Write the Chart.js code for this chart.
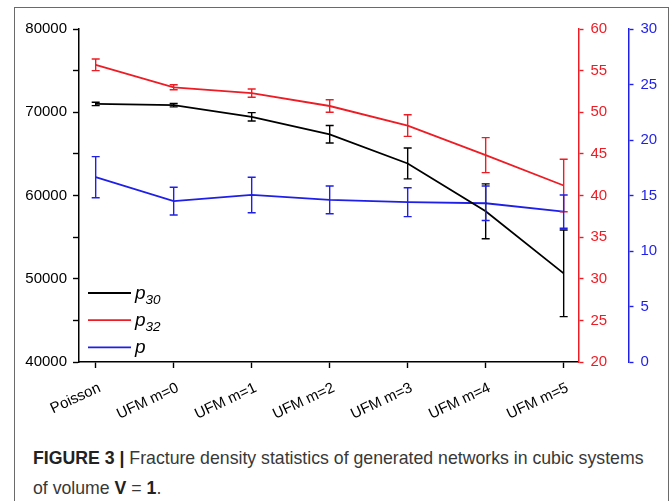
<!DOCTYPE html>
<html>
<head>
<meta charset="utf-8">
<script src="https://cdn.jsdelivr.net/npm/chart.js@4.4.1/dist/chart.umd.min.js"></script>
<style>
  body { margin: 0; background: #fff; width: 670px; height: 501px; overflow: hidden; position: relative; }
  #frame { position: absolute; left: 14px; top: 7px; width: 653px; height: 600px; border: 1px solid #6a6a6a; }
  #wrap { position: absolute; left: 0; top: 0; width: 670px; height: 430px; }
  #caption { position: absolute; left: 33px; top: 443px; font-family: 'Liberation Sans', Arial, sans-serif;
             font-size: 17.7px; line-height: 30px; color: #383838; white-space: nowrap; }
  #caption b { color: #222; }
</style>
</head>
<body>
<div id="frame"></div>
<div id="wrap"><canvas id="chart" width="670" height="430"></canvas></div>
<div id="caption">
  <b>FIGURE 3 |</b> Fracture density statistics of generated networks in cubic systems<br>
  of volume <b>V</b> = <b>1</b>.
</div>
<script>
// categories on the x axis
const categories = ['Poisson', 'UFM m=0', 'UFM m=1', 'UFM m=2', 'UFM m=3', 'UFM m=4', 'UFM m=5'];

// p30 (left axis)
const p30 = [71000, 70850, 69450, 67350, 63850, 58100, 50650];
const p30Err = [200, 200, 500, 1050, 1850, 3300, 5200];
// p32 (red right axis)
const p32 = [55.7, 53.0, 52.3, 50.75, 48.4, 44.85, 41.2];
const p32Err = [0.7, 0.3, 0.5, 0.75, 1.3, 2.1, 3.15];
// p (blue right axis)
const pVals = [16.65, 14.5, 15.05, 14.6, 14.4, 14.3, 13.55];
const pErr = [1.85, 1.25, 1.6, 1.25, 1.3, 1.55, 1.5];

// legend: symbol + subscript
const legendNames = [['p', '30'], ['p', '32'], ['p', '']];

const BLACK = '#000000';
const RED = '#ee1c24';
const BLUE = '#1f1fe8';
const FONT = "'Liberation Sans', Arial, sans-serif";

const toPts = arr => arr.map((v, i) => ({ x: i, y: v }));

const errorBars = {
  id: 'errorBars',
  afterDatasetsDraw(chart) {
    const ctx = chart.ctx;
    chart.data.datasets.forEach((ds, di) => {
      const meta = chart.getDatasetMeta(di);
      const scale = chart.scales[ds.yAxisID];
      ctx.save();
      ctx.strokeStyle = ds.borderColor;
      ctx.lineWidth = 1.4;
      meta.data.forEach((pt, i) => {
        const v = ds.data[i].y, e = ds.err[i];
        const yt = scale.getPixelForValue(v + e);
        const yb = scale.getPixelForValue(v - e);
        ctx.beginPath();
        ctx.moveTo(pt.x, yt); ctx.lineTo(pt.x, yb);
        ctx.moveTo(pt.x - 4, yt); ctx.lineTo(pt.x + 4, yt);
        ctx.moveTo(pt.x - 4, yb); ctx.lineTo(pt.x + 4, yb);
        ctx.stroke();
      });
      ctx.restore();
    });
  }
};

const subLegend = {
  id: 'subLegend',
  afterDraw(chart) {
    const ctx = chart.ctx;
    const x0 = chart.chartArea.left + 9;
    chart.data.datasets.forEach((ds, i) => {
      const y = 293 + i * 27.2;
      ctx.save();
      ctx.strokeStyle = ds.borderColor;
      ctx.lineWidth = 1.8;
      ctx.beginPath();
      ctx.moveTo(x0, y); ctx.lineTo(x0 + 43, y);
      ctx.stroke();
      ctx.fillStyle = '#000';
      ctx.textBaseline = 'alphabetic';
      ctx.font = 'italic 19px ' + FONT;
      ctx.fillText(legendNames[i][0], x0 + 47, y + 6);
      const w = ctx.measureText(legendNames[i][0]).width;
      ctx.font = 'italic 13.5px ' + FONT;
      ctx.fillText(legendNames[i][1], x0 + 47 + w, y + 11);
      ctx.restore();
    });
  }
};

function axisStyle(color, tickLen, pad) {
  return {
    grid: { display: true, drawOnChartArea: false, drawTicks: true, tickLength: tickLen, tickColor: color, tickWidth: 1.4 },
    border: { display: true, color: color, width: 1.5 },
    ticks: { color: color, font: { family: FONT, size: 15 }, padding: pad }
  };
}

const left = axisStyle(BLACK, 6, 6);
const red = axisStyle(RED, 5, 7);
const blue = axisStyle(BLUE, 5, 7);
const xs = axisStyle(BLACK, 6, 11);

new Chart(document.getElementById('chart'), {
  type: 'line',
  data: {
    datasets: [
      { label: 'p30', data: toPts(p30), err: p30Err, yAxisID: 'y', borderColor: BLACK },
      { label: 'p32', data: toPts(p32), err: p32Err, yAxisID: 'yRed', borderColor: RED },
      { label: 'p', data: toPts(pVals), err: pErr, yAxisID: 'yBlue', borderColor: BLUE }
    ].map(d => Object.assign(d, { borderWidth: 1.8, pointRadius: 0, tension: 0, fill: false }))
  },
  options: {
    responsive: false,
    animation: false,
    devicePixelRatio: 1,
    layout: { padding: { top: 29, left: 0, right: 0, bottom: 0 } },
    plugins: { legend: { display: false }, tooltip: { enabled: false } },
    scales: {
      x: {
        type: 'linear', min: -0.214, max: 6.19,
        grid: xs.grid, border: xs.border,
        afterBuildTicks: s => { s.ticks = categories.map((c, i) => ({ value: i })); },
        afterFit: s => { s.height = 68; },
        ticks: Object.assign({}, xs.ticks, {
          autoSkip: false, includeBounds: false, minRotation: 25, maxRotation: 25, labelOffset: 4,
          callback: v => categories[v]
        })
      },
      y: {
        position: 'left', min: 40000, max: 80000,
        grid: left.grid, border: left.border,
        afterFit: s => { s.width = 79; },
        ticks: Object.assign({}, left.ticks, { stepSize: 5000, callback: v => (v % 10000 === 0 ? v : '') })
      },
      yRed: {
        position: 'right', min: 20, max: 60,
        grid: red.grid, border: red.border,
        afterFit: s => { s.width = 50; },
        ticks: Object.assign({}, red.ticks, { stepSize: 5 })
      },
      yBlue: {
        position: 'right', min: 0, max: 30,
        grid: blue.grid, border: blue.border,
        afterFit: s => { s.width = 41.5; },
        ticks: Object.assign({}, blue.ticks, { stepSize: 5 })
      }
    }
  },
  plugins: [errorBars, subLegend]
});
</script>
</body>
</html>
